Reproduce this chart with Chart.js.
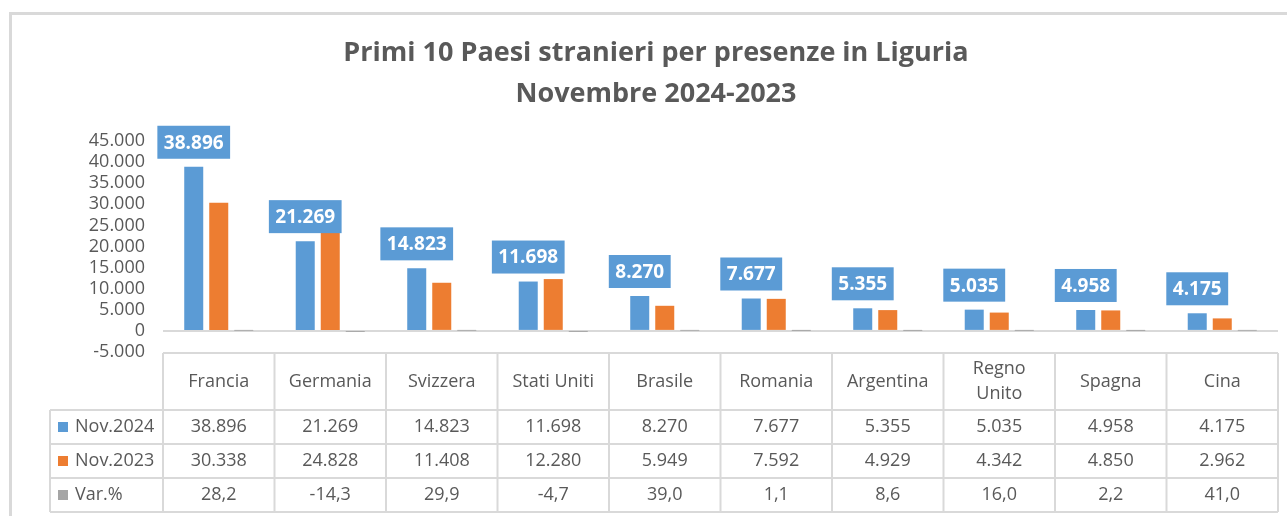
<!DOCTYPE html>
<html><head><meta charset="utf-8">
<script src="https://cdn.jsdelivr.net/npm/chart.js@4.4.1/dist/chart.umd.min.js"></script>
<style>
 html,body{margin:0;padding:0;background:#fff;overflow:hidden;}
 #frame{position:absolute;left:9px;top:12px;width:1300px;height:520px;border-left:3px solid #d9d9d9;border-top:3px solid #d9d9d9;box-sizing:border-box;}
 #wrap{position:absolute;left:0;top:0;width:1287px;height:516px;}
</style>
</head>
<body>
<div id="frame"></div>
<div id="wrap"><canvas id="myChart" width="1287" height="516"></canvas></div>
<script>
// dati
var paesi = ['Francia', 'Germania', 'Svizzera', 'Stati Uniti', 'Brasile', 'Romania', 'Argentina', ['Regno', 'Unito'], 'Spagna', 'Cina'];
var nov2024 = [38896, 21269, 14823, 11698, 8270, 7677, 5355, 5035, 4958, 4175];
var nov2023 = [30338, 24828, 11408, 12280, 5949, 7592, 4929, 4342, 4850, 2962];
var varPerc = [28.2, -14.3, 29.9, -4.7, 39.0, 1.1, 8.6, 16.0, 2.2, 41.0];
var serie = ['Nov.2024', 'Nov.2023', 'Var.%'];
var colori = ['#5b9bd5', '#ed7d31', '#a5a5a5'];

var FONT = "'Open Sans', 'Noto Sans', sans-serif";
var GRAY = '#595959';
var LINE = '#d9d9d9';

function migliaia(v) {
  return String(v).replace(/\B(?=(\d{3})+(?!\d))/g, '.');
}
function perc(v) {
  return v.toFixed(1).replace('.', ',');
}

// etichette sopra le barre Nov.2024
var etichette = {
  id: 'etichette',
  afterDatasetsDraw: function(chart) {
    var ctx = chart.ctx;
    var meta = chart.getDatasetMeta(0);
    ctx.save();
    ctx.font = 'bold 19px ' + FONT;
    ctx.textAlign = 'center';
    ctx.textBaseline = 'middle';
    meta.data.forEach(function(bar, i) {
      var txt = migliaia(nov2024[i]);
      var w = ctx.measureText(txt).width + 13;
      var h = 33;
      var bottom = bar.y - 8;
      ctx.fillStyle = colori[0];
      ctx.fillRect(bar.x - w / 2, bottom - h, w, h);
      ctx.fillStyle = '#ffffff';
      ctx.fillText(txt, bar.x, bottom - h / 2 + 1);
    });
    ctx.restore();
  }
};

// tabella dati sotto il grafico
var tabella = {
  id: 'tabella',
  afterDraw: function(chart) {
    var ctx = chart.ctx;
    var xs = chart.scales.x;
    var n = paesi.length;
    var cw = (xs.right - xs.left) / n;
    var top = chart.chartArea.bottom + 1;
    var headH = 57, rowH = 34;
    var legLeft = 50;
    var bottom = top + headH + rowH * 3;
    ctx.save();
    ctx.strokeStyle = LINE;
    ctx.lineWidth = 2;
    ctx.beginPath();
    ctx.moveTo(xs.left, top); ctx.lineTo(xs.right, top);
    for (var r = 0; r <= 3; r++) {
      var y = top + headH + r * rowH;
      ctx.moveTo(legLeft, y); ctx.lineTo(xs.right, y);
    }
    for (var c = 0; c <= n; c++) {
      var x = xs.left + c * cw;
      ctx.moveTo(x, top); ctx.lineTo(x, bottom);
    }
    ctx.moveTo(legLeft, top + headH); ctx.lineTo(legLeft, bottom);
    ctx.stroke();

    ctx.fillStyle = GRAY;
    ctx.font = '18px ' + FONT;
    ctx.textAlign = 'center';
    ctx.textBaseline = 'middle';
    paesi.forEach(function(p, i) {
      var cx = xs.getPixelForValue(i);
      var righe = Array.isArray(p) ? p : [p];
      var cy = top + headH / 2 - (righe.length - 1) * 12.5;
      righe.forEach(function(t, k) { ctx.fillText(t, cx, cy + k * 25); });
      ctx.fillText(migliaia(nov2024[i]), cx, top + headH + rowH * 0.5);
      ctx.fillText(migliaia(nov2023[i]), cx, top + headH + rowH * 1.5);
      ctx.fillText(perc(varPerc[i]), cx, top + headH + rowH * 2.5);
    });

    ctx.textAlign = 'left';
    serie.forEach(function(s, k) {
      var cy = top + headH + rowH * (k + 0.5);
      ctx.fillStyle = colori[k];
      ctx.fillRect(58, cy - 5, 10, 10);
      ctx.fillStyle = GRAY;
      ctx.fillText(s, 75, cy);
    });
    ctx.restore();
  }
};

var ctx = document.getElementById('myChart');
var myChart = new Chart(ctx, {
  type: 'bar',
  data: {
    labels: paesi,
    datasets: [
      { label: serie[0], data: nov2024, backgroundColor: colori[0] },
      { label: serie[1], data: nov2023, backgroundColor: colori[1] },
      { label: serie[2], data: varPerc, backgroundColor: colori[2] }
    ]
  },
  options: {
    responsive: false,
    animation: false,
    datasets: { bar: { barPercentage: 0.76, categoryPercentage: 0.673 } },
    layout: { padding: { left: 34, right: 9, top: 0, bottom: 164 } },
    plugins: {
      legend: { display: false },
      tooltip: { enabled: false },
      title: {
        display: true,
        text: ['Primi 10 Paesi stranieri per presenze in Liguria', 'Novembre 2024-2023'],
        color: GRAY,
        font: { family: FONT, size: 27, weight: 'bold', lineHeight: '41px' },
        padding: { top: 33, bottom: 26 }
      }
    },
    scales: {
      x: { display: false },
      y: {
        min: -5000,
        max: 45000,
        afterFit: function(scale) { scale.width = 129; },
        border: { display: false },
        grid: {
          drawTicks: false,
          lineWidth: 2,
          color: function(c) { return c.tick && c.tick.value === 0 ? LINE : 'rgba(0,0,0,0)'; }
        },
        ticks: {
          stepSize: 5000,
          autoSkip: false,
          padding: 18,
          color: GRAY,
          font: { family: FONT, size: 18 },
          callback: function(v) { return migliaia(v); }
        }
      }
    }
  },
  plugins: [etichette, tabella]
});
</script>
</body></html>
